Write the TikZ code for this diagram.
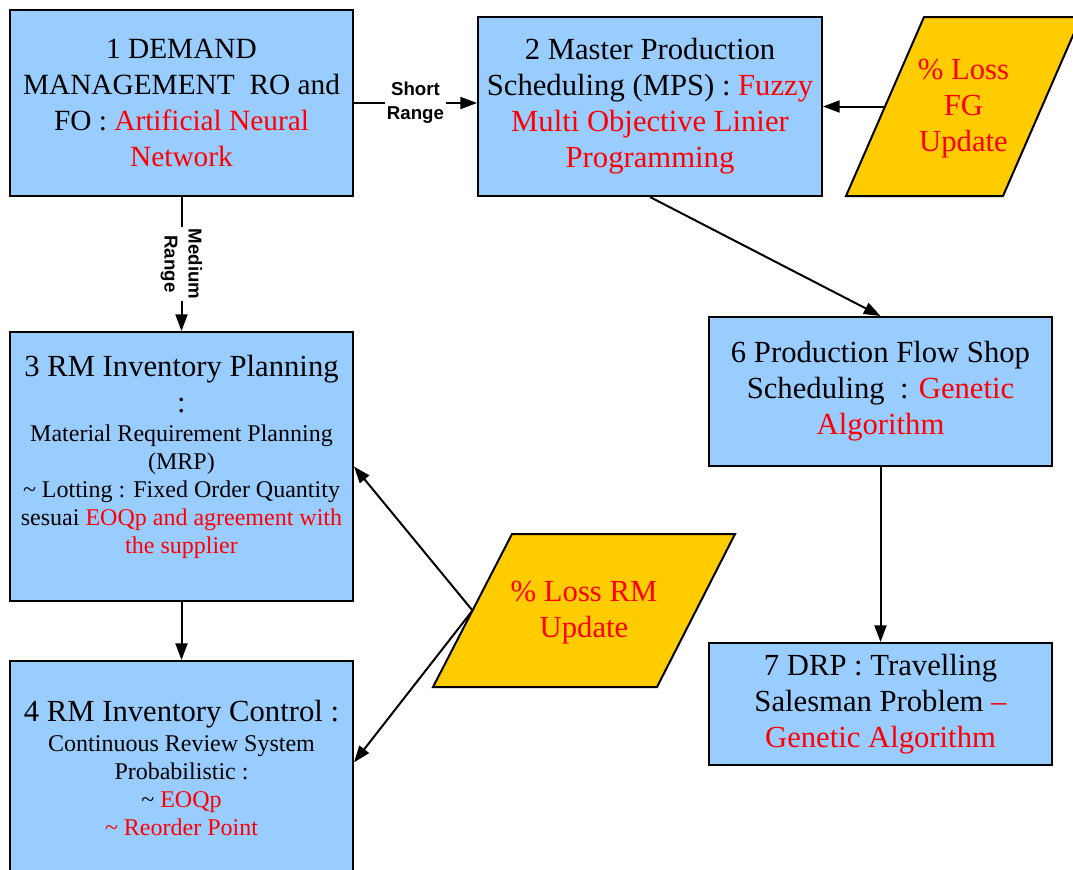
\documentclass[tikz,border=0pt]{standalone}
\usepackage{fontspec}
\setmainfont{Liberation Serif}
\setsansfont{Liberation Sans}
\usetikzlibrary{arrows.meta,calc}
\definecolor{boxblue}{HTML}{99CCFF}
\definecolor{gold}{HTML}{FFCC00}
\newcommand{\hl}[1]{\textcolor{red}{#1}}
\newcommand{\bigtxt}{\fontsize{23}{27}\selectfont}
\newcommand{\smalltxt}{\fontsize{18}{21}\selectfont}

\begin{document}
\begin{tikzpicture}[x=0.75pt,y=-0.75pt,
  box/.style={draw=black, line width=1.5pt, fill=boxblue, inner sep=0pt, align=center, font=\bigtxt},
  para/.style={draw=black, line width=1.5pt, fill=gold},
  paratext/.style={align=center, font=\bigtxt, text=red, inner sep=0pt},
  bodytext/.style={align=center, inner sep=0pt},
  arr/.style={line width=1.5pt, -{Triangle[length=12.5pt,width=9pt]}},
  lbl/.style={font=\fontsize{14}{18}\selectfont\sffamily\bfseries, fill=white, align=center, inner sep=1.5pt}
]
\useasboundingbox (0,0) rectangle (1073,869);

% process boxes
\node[box, font=\fontsize{22}{27}\selectfont, minimum width=257.25pt, minimum height=139.5pt] (b1) at (181.5,103)
  {1 DEMAND\\MANAGEMENT\ \ RO and\\FO : \hl{Artificial Neural}\\\hl{Network}};
\node[box, minimum width=258pt, minimum height=134.25pt] (b2) at (650,106.5)
  {2 Master Production\\Scheduling (MPS) : \hl{Fuzzy}\\\hl{Multi Objective Linier}\\\hl{Programming}};
\node[box, minimum width=257.25pt, minimum height=201.75pt] (b3) at (181.5,466.5) {};
\node[bodytext, font=\bigtxt] (b3h) at (181.5,384) {3 RM Inventory Planning\\:};
\node[bodytext, font=\smalltxt] (b3b) at (181.5,492)
  {Material Requirement Planning\\(MRP)\\\textasciitilde{} Lotting : Fixed Order Quantity\\sesuai \hl{EOQp and agreement with}\\\hl{the supplier}};
\node[box, minimum width=257.25pt, minimum height=168pt] (b4) at (181.5,773) {};
\node[bodytext, font=\bigtxt] (b4h) at (181.5,714) {4 RM Inventory Control :};
\node[bodytext, font=\smalltxt] (b4b) at (181.5,786)
  {Continuous Review System\\Probabilistic :\\\textasciitilde{} \hl{EOQp}\\\hl{\textasciitilde{} Reorder Point}};
\node[box, minimum width=257.25pt, minimum height=111.75pt] (b6) at (880.5,391.5)
  {6 Production Flow Shop\\Scheduling\ \ : \hl{Genetic}\\\hl{Algorithm}};
\node[box, minimum width=257.25pt, minimum height=91.5pt] (b7) at (880.5,704)
  {7 DRP : Travelling\\Salesman Problem \hl{--}\\\hl{Genetic Algorithm}};

% data parallelograms
\coordinate (fgA) at (846,196);
\coordinate (fgB) at (1003,196);
\coordinate (fgC) at (1081,17);
\coordinate (fgD) at (924,17);
\draw[para] (fgA) -- (fgB) -- (fgC) -- (fgD) -- cycle;
\node[paratext] (fgt) at (963.5,109) {\% Loss\\FG\\Update};
\coordinate (fgL) at ($(fgA)!0.5!(fgD)$);

\coordinate (rmA) at (433,687);
\coordinate (rmB) at (657,687);
\coordinate (rmC) at (735,534);
\coordinate (rmD) at (512,534);
\draw[para] (rmA) -- (rmB) -- (rmC) -- (rmD) -- cycle;
\node[paratext] (rmt) at (584,613) {\% Loss RM\\Update};
\coordinate (rmL) at ($(rmA)!0.5!(rmD)$);

% connectors
\draw[arr] (b1.east) -- (b1.east -| b2.west) node[lbl, midway] (ls) {Short\\Range};
\draw[arr] (b1.south) -- (b3.north) node[lbl, midway, rotate=-90] (lm) {Medium\\Range};
\draw[arr] (fgL) -- (fgL -| b2.east);
\draw[arr] (b2.south) -- (b6.north);
\draw[arr] (b3.south) -- (b4.north);
\draw[arr] (b6.south) -- (b7.north);
\draw[arr] (rmL) -- (b3.east);
\draw[arr] (rmL) -- ([yshift=8pt]b4.east);
\end{tikzpicture}
\end{document}
